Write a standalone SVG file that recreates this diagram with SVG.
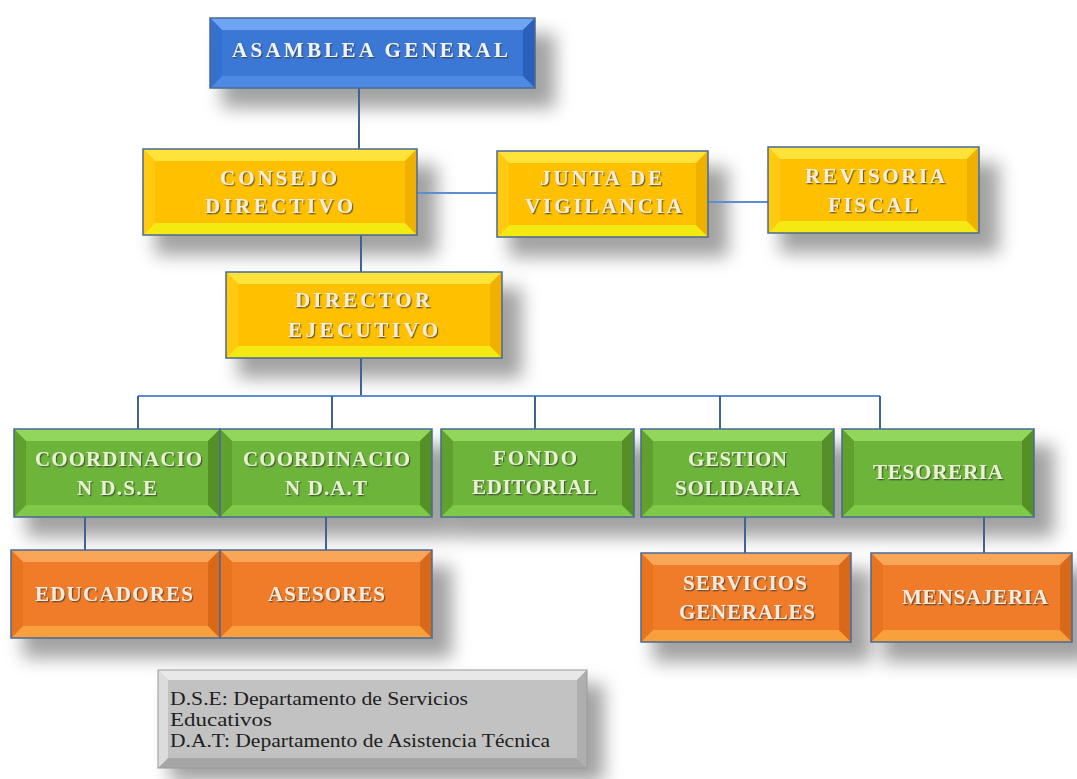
<svg xmlns="http://www.w3.org/2000/svg" width="1077" height="779" viewBox="0 0 1077 779">
<defs>
<filter id="sh" x="-20%" y="-40%" width="140%" height="180%"><feGaussianBlur stdDeviation="9"/></filter>
<filter id="ts" x="-5%" y="-30%" width="110%" height="160%"><feDropShadow dx="1.2" dy="1.3" stdDeviation="0.6" flood-color="#3a3a30" flood-opacity="0.75"/></filter>
<style>
.c{stroke:none}
.e{fill:none;stroke:#4a6a94;stroke-width:1.5}
.lbl{font-family:"Liberation Serif","Times New Roman",serif;font-weight:bold;font-size:21px;filter:url(#ts)}
.blu .c{fill:#3b78d6}.blu .t{fill:#6ea4f2}.blu .b{fill:#4d8ae6}.blu .l{fill:#3470cc}.blu .r{fill:#2a60b8}.blu text{fill:#eef2fa}
.yel .c{fill:#ffc000}.yel .t{fill:#ffe23a}.yel .b{fill:#f4ea12}.yel .l{fill:#ffca10}.yel .r{fill:#f0b000}.yel text{fill:#f6ecdc}
.grn .c{fill:#6cb43a}.grn .t{fill:#92d65c}.grn .b{fill:#80c848}.grn .l{fill:#5fa02f}.grn .r{fill:#549026}.grn text{fill:#e6f2d0}
.org .c{fill:#f07c2a}.org .t{fill:#faa658}.org .b{fill:#f7a03c}.org .l{fill:#e8741f}.org .r{fill:#d8681a}.org text{fill:#faeadc}
.gry .c{fill:#c2c2c2}.gry .t{fill:#e8e8e8}.gry .b{fill:#a6a6a6}.gry .l{fill:#dcdcdc}.gry .r{fill:#aeaeae}
.gry .e{stroke:#9a9a9a;stroke-width:1}
.leg{font-family:"Liberation Serif","Times New Roman",serif;font-size:18px;fill:#1e1e1e}
.cn{fill:none;stroke:#41648f;stroke-width:2}
.hz{fill:none;stroke:#5b8fcf;stroke-width:2}
</style>
</defs>
<rect width="1077" height="779" fill="#ffffff"/>

<g id="shadows" filter="url(#sh)" fill="#7a7a7a" opacity="0.7">
<rect x="222" y="34" width="333" height="74"/>
<rect x="155" y="165" width="282" height="90"/>
<rect x="509" y="167" width="219" height="90"/>
<rect x="780" y="163" width="219" height="90"/>
<rect x="238" y="288" width="284" height="90"/>
<rect x="26" y="445" width="426" height="92"/>
<rect x="453" y="445" width="201" height="92"/>
<rect x="653" y="445" width="201" height="92"/>
<rect x="854" y="445" width="200" height="92"/>
<rect x="23" y="566" width="429" height="92"/>
<rect x="653" y="569" width="218" height="93"/>
<rect x="883" y="569" width="209" height="93"/>
<rect x="170" y="684" width="434" height="98"/>
</g>

<g id="connectors">
<path class="cn" d="M359 88V149"/>
<path class="hz" d="M417 193H497"/>
<path class="hz" d="M708 202H768"/>
<path class="cn" d="M361 235V272M361 358V396"/>
<path class="hz" d="M138 396H880"/>
<path class="cn" d="M138 396V429M332 396V429M535 396V429M720 396V429M880 396V429"/>
<path class="cn" d="M85 517V550M326 517V550M745 517V553M984 517V553"/>
</g>

<g id="asamblea" class="blu">
<rect class="c" x="210" y="18" width="325" height="70"/>
<polygon class="t" points="210,18 535,18 523,30 222,30"/>
<polygon class="b" points="210,88 535,88 523,76 222,76"/>
<polygon class="l" points="210,18 222,30 222,76 210,88"/>
<polygon class="r" points="535,18 523,30 523,76 535,88"/>
<rect class="e" x="210" y="18" width="325" height="70"/>
<text class="lbl" x="232" y="57" textLength="276" lengthAdjust="spacing">ASAMBLEA GENERAL</text>
</g>

<g id="consejo" class="yel">
<rect class="c" x="143" y="149" width="274" height="86"/>
<polygon class="t" points="143,149 417,149 405,161 155,161"/>
<polygon class="b" points="143,235 417,235 405,223 155,223"/>
<polygon class="l" points="143,149 155,161 155,223 143,235"/>
<polygon class="r" points="417,149 405,161 405,223 417,235"/>
<rect class="e" x="143" y="149" width="274" height="86"/>
<text class="lbl" x="220" y="185" textLength="117" lengthAdjust="spacing">CONSEJO</text>
<text class="lbl" x="205" y="213" textLength="148" lengthAdjust="spacing">DIRECTIVO</text>
</g>

<g id="junta" class="yel">
<rect class="c" x="497" y="151" width="211" height="86"/>
<polygon class="t" points="497,151 708,151 696,163 509,163"/>
<polygon class="b" points="497,237 708,237 696,225 509,225"/>
<polygon class="l" points="497,151 509,163 509,225 497,237"/>
<polygon class="r" points="708,151 696,163 696,225 708,237"/>
<rect class="e" x="497" y="151" width="211" height="86"/>
<text class="lbl" x="540" y="185" textLength="122" lengthAdjust="spacing">JUNTA DE</text>
<text class="lbl" x="525" y="213" textLength="157" lengthAdjust="spacing">VIGILANCIA</text>
</g>

<g id="revisoria" class="yel">
<rect class="c" x="768" y="147" width="211" height="86"/>
<polygon class="t" points="768,147 979,147 967,159 780,159"/>
<polygon class="b" points="768,233 979,233 967,221 780,221"/>
<polygon class="l" points="768,147 780,159 780,221 768,233"/>
<polygon class="r" points="979,147 967,159 967,221 979,233"/>
<rect class="e" x="768" y="147" width="211" height="86"/>
<text class="lbl" x="805" y="183" textLength="140" lengthAdjust="spacing">REVISORIA</text>
<text class="lbl" x="828" y="212" textLength="90" lengthAdjust="spacing">FISCAL</text>
</g>

<g id="director" class="yel">
<rect class="c" x="226" y="272" width="276" height="86"/>
<polygon class="t" points="226,272 502,272 490,284 238,284"/>
<polygon class="b" points="226,358 502,358 490,346 238,346"/>
<polygon class="l" points="226,272 238,284 238,346 226,358"/>
<polygon class="r" points="502,272 490,284 490,346 502,358"/>
<rect class="e" x="226" y="272" width="276" height="86"/>
<text class="lbl" x="295" y="307" textLength="135" lengthAdjust="spacing">DIRECTOR</text>
<text class="lbl" x="288" y="337" textLength="150" lengthAdjust="spacing">EJECUTIVO</text>
</g>

<g id="coord-dse" class="grn">
<rect class="c" x="14" y="429" width="206" height="88"/>
<polygon class="t" points="14,429 220,429 208,441 26,441"/>
<polygon class="b" points="14,517 220,517 208,505 26,505"/>
<polygon class="l" points="14,429 26,441 26,505 14,517"/>
<polygon class="r" points="220,429 208,441 208,505 220,517"/>
<rect class="e" x="14" y="429" width="206" height="88"/>
<text class="lbl" x="35" y="466" textLength="167" lengthAdjust="spacing">COORDINACIO</text>
<text class="lbl" x="77" y="495" textLength="80" lengthAdjust="spacing">N D.S.E</text>
</g>

<g id="coord-dat" class="grn">
<rect class="c" x="220" y="429" width="212" height="88"/>
<polygon class="t" points="220,429 432,429 420,441 232,441"/>
<polygon class="b" points="220,517 432,517 420,505 232,505"/>
<polygon class="l" points="220,429 232,441 232,505 220,517"/>
<polygon class="r" points="432,429 420,441 420,505 432,517"/>
<rect class="e" x="220" y="429" width="212" height="88"/>
<text class="lbl" x="243" y="466" textLength="167" lengthAdjust="spacing">COORDINACIO</text>
<text class="lbl" x="285" y="495" textLength="82" lengthAdjust="spacing">N D.A.T</text>
</g>

<g id="fondo" class="grn">
<rect class="c" x="441" y="429" width="193" height="88"/>
<polygon class="t" points="441,429 634,429 622,441 453,441"/>
<polygon class="b" points="441,517 634,517 622,505 453,505"/>
<polygon class="l" points="441,429 453,441 453,505 441,517"/>
<polygon class="r" points="634,429 622,441 622,505 634,517"/>
<rect class="e" x="441" y="429" width="193" height="88"/>
<text class="lbl" x="493" y="465" textLength="84" lengthAdjust="spacing">FONDO</text>
<text class="lbl" x="472" y="494" textLength="125" lengthAdjust="spacing">EDITORIAL</text>
</g>

<g id="gestion" class="grn">
<rect class="c" x="641" y="429" width="193" height="88"/>
<polygon class="t" points="641,429 834,429 822,441 653,441"/>
<polygon class="b" points="641,517 834,517 822,505 653,505"/>
<polygon class="l" points="641,429 653,441 653,505 641,517"/>
<polygon class="r" points="834,429 822,441 822,505 834,517"/>
<rect class="e" x="641" y="429" width="193" height="88"/>
<text class="lbl" x="688" y="466" textLength="99" lengthAdjust="spacing">GESTION</text>
<text class="lbl" x="675" y="495" textLength="125" lengthAdjust="spacing">SOLIDARIA</text>
</g>

<g id="tesoreria" class="grn">
<rect class="c" x="842" y="429" width="192" height="88"/>
<polygon class="t" points="842,429 1034,429 1022,441 854,441"/>
<polygon class="b" points="842,517 1034,517 1022,505 854,505"/>
<polygon class="l" points="842,429 854,441 854,505 842,517"/>
<polygon class="r" points="1034,429 1022,441 1022,505 1034,517"/>
<rect class="e" x="842" y="429" width="192" height="88"/>
<text class="lbl" x="873" y="479" textLength="130" lengthAdjust="spacing">TESORERIA</text>
</g>

<g id="educadores" class="org">
<rect class="c" x="11" y="550" width="209" height="88"/>
<polygon class="t" points="11,550 220,550 208,562 23,562"/>
<polygon class="b" points="11,638 220,638 208,626 23,626"/>
<polygon class="l" points="11,550 23,562 23,626 11,638"/>
<polygon class="r" points="220,550 208,562 208,626 220,638"/>
<rect class="e" x="11" y="550" width="209" height="88"/>
<text class="lbl" x="35" y="601" textLength="158" lengthAdjust="spacing">EDUCADORES</text>
</g>

<g id="asesores" class="org">
<rect class="c" x="220" y="550" width="212" height="88"/>
<polygon class="t" points="220,550 432,550 420,562 232,562"/>
<polygon class="b" points="220,638 432,638 420,626 232,626"/>
<polygon class="l" points="220,550 232,562 232,626 220,638"/>
<polygon class="r" points="432,550 420,562 420,626 432,638"/>
<rect class="e" x="220" y="550" width="212" height="88"/>
<text class="lbl" x="268" y="601" textLength="117" lengthAdjust="spacing">ASESORES</text>
</g>

<g id="servicios" class="org">
<rect class="c" x="641" y="553" width="210" height="89"/>
<polygon class="t" points="641,553 851,553 839,565 653,565"/>
<polygon class="b" points="641,642 851,642 839,630 653,630"/>
<polygon class="l" points="641,553 653,565 653,630 641,642"/>
<polygon class="r" points="851,553 839,565 839,630 851,642"/>
<rect class="e" x="641" y="553" width="210" height="89"/>
<text class="lbl" x="683" y="590" textLength="124" lengthAdjust="spacing">SERVICIOS</text>
<text class="lbl" x="679" y="619" textLength="136" lengthAdjust="spacing">GENERALES</text>
</g>

<g id="mensajeria" class="org">
<rect class="c" x="871" y="553" width="201" height="89"/>
<polygon class="t" points="871,553 1072,553 1060,565 883,565"/>
<polygon class="b" points="871,642 1072,642 1060,630 883,630"/>
<polygon class="l" points="871,553 883,565 883,630 871,642"/>
<polygon class="r" points="1072,553 1060,565 1060,630 1072,642"/>
<rect class="e" x="871" y="553" width="201" height="89"/>
<text class="lbl" x="902" y="604" textLength="146" lengthAdjust="spacing">MENSAJERIA</text>
</g>

<g id="legend" class="gry">
<rect class="c" x="158" y="670" width="429" height="98"/>
<polygon class="t" points="158,670 587,670 577,680 168,680"/>
<polygon class="b" points="158,768 587,768 577,758 168,758"/>
<polygon class="l" points="158,670 168,680 168,758 158,768"/>
<polygon class="r" points="587,670 577,680 577,758 587,768"/>
<rect class="e" x="158" y="670" width="429" height="98"/>
<text class="leg" x="170" y="705" textLength="298" lengthAdjust="spacingAndGlyphs">D.S.E: Departamento  de Servicios</text>
<text class="leg" x="170" y="726" textLength="102" lengthAdjust="spacingAndGlyphs">Educativos</text>
<text class="leg" x="170" y="747" textLength="380" lengthAdjust="spacingAndGlyphs">D.A.T: Departamento  de Asistencia Técnica</text>
</g>
</svg>
